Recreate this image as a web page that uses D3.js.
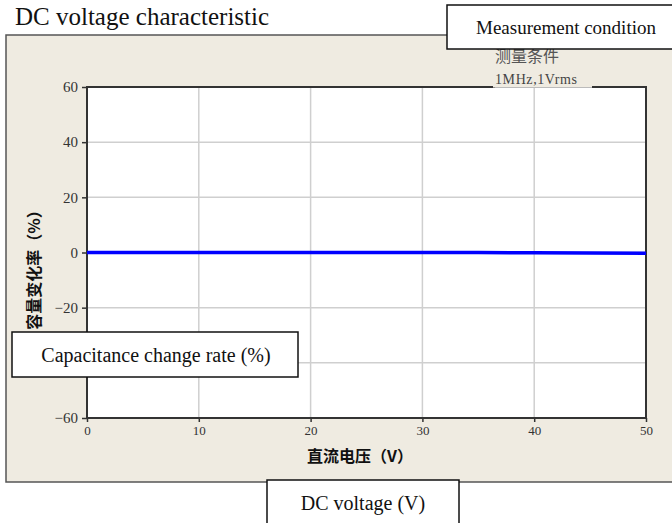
<!DOCTYPE html>
<html><head><meta charset="utf-8">
<script src="https://cdn.jsdelivr.net/npm/d3@7/dist/d3.min.js"></script>
<style>body{margin:0;background:#fff}svg{display:block}</style>
</head><body><svg id="c" width="672" height="523"></svg>
<script>
const voltage = [0, 5, 10, 15, 20, 25, 30, 35, 40, 45, 50];
const changeRate = [0, 0, 0, 0, 0, 0, 0, 0, -0.1, -0.2, -0.3];
const xTicks = [0, 10, 20, 30, 40, 50];
const yTicks = [60, 40, 20, 0, -20, -40, -60];

const svg = d3.select("#c");
const L = 87, R = 646, T = 87, B = 418;
const x = d3.scaleLinear().domain([0, 50]).range([L, R]);
const y = d3.scaleLinear().domain([-60, 60]).range([B, T]);
const serif = "'Liberation Serif','DejaVu Serif',serif";
const cjk = "'Noto Sans CJK SC',sans-serif";

// panel
svg.append("rect").attr("x", 6).attr("y", 35).attr("width", 700).attr("height", 447)
  .attr("fill", "#efebe1").attr("stroke", "#555").attr("stroke-width", 1.5);

// title
svg.append("text").attr("x", 15).attr("y", 25).attr("font-family", serif)
  .attr("font-size", 25).attr("fill", "#111").text("DC voltage characteristic");

// plot bg
svg.append("rect").attr("x", L).attr("y", T).attr("width", R - L).attr("height", B - T).attr("fill", "#fff");

// grid
svg.append("g").selectAll("line").data(xTicks.filter(d => d > 0 && d < 50)).join("line")
  .attr("x1", d => x(d)).attr("x2", d => x(d)).attr("y1", T).attr("y2", B)
  .attr("stroke", "#cfcfcf").attr("stroke-width", 1.5);
svg.append("g").selectAll("line").data(yTicks.filter(d => d > -60 && d < 60)).join("line")
  .attr("y1", d => y(d)).attr("y2", d => y(d)).attr("x1", L).attr("x2", R)
  .attr("stroke", "#cfcfcf").attr("stroke-width", 1.5);

// axes
const yAxis = svg.append("g").attr("transform", `translate(${L},0)`)
  .call(d3.axisLeft(y).tickValues(yTicks).tickSize(5).tickPadding(4).tickFormat(d => d === 0 ? "0" : (d < 0 ? "\u2212" + (-d) : d)));
yAxis.select(".domain").remove();
yAxis.selectAll("line").attr("stroke", "#333").attr("stroke-width", 1.5);
yAxis.selectAll("text").attr("font-family", serif).attr("font-size", 15).attr("fill", "#333");

const xAxis = svg.append("g").attr("transform", `translate(0,${B})`)
  .call(d3.axisBottom(x).tickValues(xTicks).tickSize(4).tickPadding(4));
xAxis.select(".domain").remove();
xAxis.selectAll("line").attr("stroke", "#333").attr("stroke-width", 1.5);
xAxis.selectAll("text").attr("font-family", serif).attr("font-size", 13).attr("fill", "#333");

// frame
svg.append("rect").attr("x", L).attr("y", T).attr("width", R - L).attr("height", B - T)
  .attr("fill", "none").attr("stroke", "#333").attr("stroke-width", 2);

// data line
svg.append("path").datum(voltage.map((v, i) => [v, changeRate[i]]))
  .attr("d", d3.line().x(d => x(d[0])).y(d => y(d[1])))
  .attr("fill", "none").attr("stroke", "#0000ff").attr("stroke-width", 3.5);

// condition text block
svg.append("rect").attr("x", 493).attr("y", 48).attr("width", 99).attr("height", 39.5).attr("fill", "#efebe1");
svg.append("line").attr("x1", 495).attr("x2", 592).attr("y1", 87.5).attr("y2", 87.5).attr("stroke", "#bbb").attr("stroke-width", 1);
svg.append("text").attr("x", 495).attr("y", 62).attr("font-family", cjk).attr("font-size", 16).attr("fill", "#555").text("测量条件");
svg.append("text").attr("x", 495).attr("y", 84).attr("font-family", serif).attr("font-size", 14)
  .attr("letter-spacing", 0.6).attr("fill", "#444").text("1MHz,1Vrms");

// axis titles
svg.append("text").attr("x", 360).attr("y", 462).attr("text-anchor", "middle")
  .attr("font-family", cjk).attr("font-weight", "bold").attr("font-size", 16).attr("fill", "#111").text("直流电压（V）");
svg.append("text").attr("transform", "translate(40,266) rotate(-90)").attr("text-anchor", "middle")
  .attr("font-family", cjk).attr("font-weight", "bold").attr("font-size", 16).attr("fill", "#111").text("容量变化率（%）");

// English annotation boxes
function box(x0, y0, w, h, label, tx, ty, size) {
  svg.append("rect").attr("x", x0).attr("y", y0).attr("width", w).attr("height", h)
    .attr("fill", "#fff").attr("stroke", "#111").attr("stroke-width", 1.5);
  svg.append("text").attr("x", tx).attr("y", ty).attr("text-anchor", "middle")
    .attr("font-family", serif).attr("font-size", size).attr("fill", "#111").text(label);
}
box(447, 5, 240, 44, "Measurement condition", 566, 34, 19);
box(12, 332, 286, 45, "Capacitance change rate (%)", 156, 362, 20);
box(267, 480, 192, 60, "DC voltage (V)", 363, 510, 20);
</script></body></html>
